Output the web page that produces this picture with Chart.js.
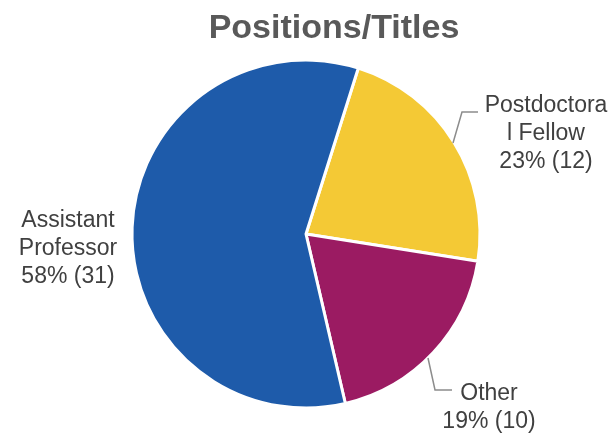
<!DOCTYPE html>
<html>
<head>
<meta charset="utf-8">
<script src="https://cdn.jsdelivr.net/npm/chart.js@4"></script>
<style>
  html, body { margin: 0; padding: 0; background: #ffffff; }
  #wrap { width: 612px; height: 433px; position: relative; }
</style>
</head>
<body>
<div id="wrap"><canvas id="c" width="612" height="433"></canvas></div>
<script>
const chartTitle = 'Positions/Titles';
const categories = ['Postdoctoral Fellow', 'Other', 'Assistant Professor'];
const labelLines = [['Postdoctora', 'l Fellow'], ['Other'], ['Assistant', 'Professor']];
const values = [12, 10, 31];
const colors = ['#F4C935', '#9B1B62', '#1E5BAA'];

const total = values.reduce((a, b) => a + b, 0);

// label placement (layout only)
const labelLayout = [
  { x: 546, y: 112, leader: [[453, 143], [462, 112], [478, 112]] },
  { x: 489, y: 400, leader: [[428, 358], [435, 390], [452, 390]] },
  { x: 68, y: 227, leader: null }
];

const overlay = {
  id: 'overlay',
  afterDraw(chart) {
    const ctx = chart.ctx;
    ctx.save();
    // title
    ctx.fillStyle = '#595959';
    ctx.font = 'bold 34px "Liberation Sans", Arial, sans-serif';
    ctx.textAlign = 'center';
    ctx.textBaseline = 'alphabetic';
    ctx.fillText(chartTitle, 334, 38);
    // labels
    ctx.font = '23px "Liberation Sans", Arial, sans-serif';
    ctx.fillStyle = '#404040';
    values.forEach((v, i) => {
      const L = labelLayout[i];
      const pct = Math.round(v / total * 100);
      const lines = labelLines[i].concat([pct + '% (' + v + ')']);
      lines.forEach((t, k) => ctx.fillText(t, L.x, L.y + k * 28));
      if (L.leader) {
        ctx.strokeStyle = '#8C8C8C';
        ctx.lineWidth = 1.5;
        ctx.beginPath();
        L.leader.forEach((p, k) => k ? ctx.lineTo(p[0], p[1]) : ctx.moveTo(p[0], p[1]));
        ctx.stroke();
      }
    });
    ctx.restore();
  }
};

new Chart(document.getElementById('c'), {
  type: 'pie',
  data: {
    labels: categories,
    datasets: [{
      data: values,
      backgroundColor: colors,
      borderColor: '#ffffff',
      borderWidth: 3
    }]
  },
  options: {
    responsive: false,
    animation: false,
    rotation: 17.5,
    radius: 174,
    layout: { padding: { left: 132, right: 132, top: 60, bottom: 25 } },
    plugins: {
      legend: { display: false },
      title: { display: false },
      tooltip: { enabled: false }
    }
  },
  plugins: [overlay]
});
</script>
</body>
</html>
